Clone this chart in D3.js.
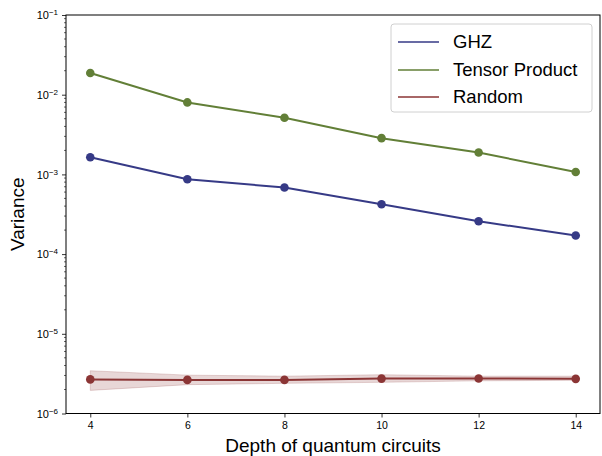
<!DOCTYPE html>
<html><head><meta charset="utf-8">
<script src="https://cdn.jsdelivr.net/npm/d3@7"></script>
<style>body{margin:0;background:#fff;} svg{display:block;font-family:"Liberation Sans",Arial,sans-serif;}</style>
</head><body>
<svg id="chart" width="602" height="456"></svg>
<script>
const depths = [4, 6, 8, 10, 12, 14];
const ghz = [0.00164, 0.00087, 0.000684, 0.000423, 0.000258, 0.000171];
const tensor = [0.0187, 0.0080, 0.00513, 0.00285, 0.00188, 0.00107];
const randomMean = [2.68e-6, 2.64e-6, 2.64e-6, 2.74e-6, 2.75e-6, 2.72e-6];
const randomLow = [1.95e-6, 2.30e-6, 2.39e-6, 2.46e-6, 2.57e-6, 2.61e-6];
const randomHigh = [3.44e-6, 3.03e-6, 2.94e-6, 3.07e-6, 2.94e-6, 2.94e-6];
const yTicks = [1e-6, 1e-5, 1e-4, 1e-3, 1e-2, 1e-1];
const xTicks = [4, 6, 8, 10, 12, 14];
const seriesNames = ["GHZ", "Tensor Product", "Random"];
const colors = ["#363a86", "#627f37", "#8b3535"];

const svg = d3.select("#chart");
const L = 66, R = 600, T = 15, B = 413.5;
const x = d3.scaleLinear().domain([3.5, 14.5]).range([L, R]);
const y = d3.scaleLog().domain([1e-6, 1e-1]).range([B, T]);

// band for Random
const bandData = depths.map((d, i) => ({d, lo: randomLow[i], hi: randomHigh[i]}));
svg.append("path")
  .datum(bandData)
  .attr("d", d3.area().x(p => x(p.d)).y0(p => y(p.lo)).y1(p => y(p.hi)))
  .attr("fill", colors[2]).attr("fill-opacity", 0.2)
  .attr("stroke", colors[2]).attr("stroke-opacity", 0.2).attr("stroke-width", 1);

const series = [ghz, tensor, randomMean];
series.forEach((vals, si) => {
  const pts = depths.map((d, i) => ({d, v: vals[i]}));
  svg.append("path").datum(pts)
    .attr("d", d3.line().x(p => x(p.d)).y(p => y(p.v)))
    .attr("fill", "none").attr("stroke", colors[si]).attr("stroke-width", 2);
  svg.selectAll(null).data(pts).enter().append("circle")
    .attr("cx", p => x(p.d)).attr("cy", p => y(p.v)).attr("r", 4.3)
    .attr("fill", colors[si]);
});

// axes
const xAxis = d3.axisBottom(x).tickValues(xTicks).tickSize(4).tickPadding(4).tickFormat(d3.format("d"));
const gx = svg.append("g").attr("transform", `translate(0,${B})`).call(xAxis);
gx.select(".domain").remove();
gx.selectAll("text").attr("font-size", 10.5).attr("fill", "#000").attr("font-family", "Liberation Sans, Arial, sans-serif");
gx.selectAll("line").attr("stroke", "#000").attr("stroke-width", 0.8);

const yAxis = d3.axisLeft(y).tickValues(yTicks).tickSize(4).tickPadding(4).tickFormat(() => "");
const gy = svg.append("g").attr("transform", `translate(${L},0)`).call(yAxis);
gy.select(".domain").remove();
gy.selectAll("line").attr("stroke", "#000").attr("stroke-width", 0.8);
gy.selectAll(".tick text").each(function(d) {
  const t = d3.select(this);
  const e = Math.round(Math.log10(d));
  t.attr("font-size", 11).attr("fill", "#000").attr("font-family", "Liberation Sans, Arial, sans-serif").attr("dy", "0.35em");
  t.append("tspan").text("10");
  t.append("tspan").attr("dy", "-0.5em").attr("font-size", 8).text("\u2212" + Math.abs(e));
});

// minor ticks
const minor = [];
for (let e = -6; e < -1; e++) for (let m = 2; m <= 9; m++) minor.push(m * Math.pow(10, e));
svg.append("g").selectAll("line").data(minor).enter().append("line")
  .attr("x1", L - 2).attr("x2", L).attr("y1", d => y(d)).attr("y2", d => y(d))
  .attr("stroke", "#000").attr("stroke-width", 0.6);

// frame
svg.append("rect").attr("x", L).attr("y", T).attr("width", R - L).attr("height", B - T)
  .attr("fill", "none").attr("stroke", "#000").attr("stroke-width", 1);

// labels
svg.append("text").attr("x", (L + R) / 2).attr("y", 452).attr("text-anchor", "middle")
  .attr("font-size", 19).text("Depth of quantum circuits");
svg.append("text").attr("transform", `translate(24,${(T + B) / 2}) rotate(-90)`).attr("text-anchor", "middle")
  .attr("font-size", 19).text("Variance");

// legend
const lg = svg.append("g");
lg.append("rect").attr("x", 391).attr("y", 24).attr("width", 201).attr("height", 88).attr("rx", 3)
  .attr("fill", "#fff").attr("fill-opacity", 0.8).attr("stroke", "#d0d0d0").attr("stroke-width", 1);
const rowY = [42, 70, 97];
seriesNames.forEach((name, i) => {
  lg.append("line").attr("x1", 398).attr("x2", 439).attr("y1", rowY[i]).attr("y2", rowY[i])
    .attr("stroke", colors[i]).attr("stroke-width", 1.5);
  lg.append("text").attr("x", 453).attr("y", rowY[i]).attr("dy", "0.35em").attr("font-size", 18.5).text(name);
});
</script>
</body></html>
